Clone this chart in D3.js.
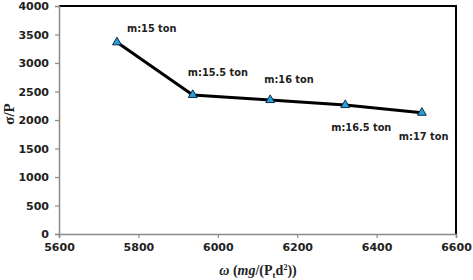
<!DOCTYPE html>
<html><head><meta charset="utf-8">
<script src="https://cdn.jsdelivr.net/npm/d3@7"></script>
<style>body{margin:0;background:#fff}</style>
</head><body>
<svg id="c" width="473" height="280"></svg>
<script>
const omega = [5746, 5937, 6132, 6321, 6514];
const sigmaP = [3363, 2440, 2351, 2263, 2128];
const labels = ["m:15 ton", "m:15.5 ton", "m:16 ton", "m:16.5 ton", "m:17 ton"];
const xTicks = [5600, 5800, 6000, 6200, 6400, 6600];
const yTicks = [0, 500, 1000, 1500, 2000, 2500, 3000, 3500, 4000];

const svg = d3.select("#c");
const L = 59, R = 456, T = 6, B = 234;
const x = d3.scaleLinear().domain([5600, 6600]).range([L, R]);
const y = d3.scaleLinear().domain([0, 4000]).range([B, T]);
const font = "DejaVu Sans, sans-serif";

svg.append("path").attr("d", `M${L},${T}H${R}V${B}`).attr("fill", "none").attr("stroke", "#000").attr("stroke-width", 2);

const xa = svg.append("g").attr("transform", `translate(0,${B})`)
  .call(d3.axisBottom(x).tickValues(xTicks).tickSize(4).tickPadding(5).tickFormat(d3.format("d")));
const ya = svg.append("g").attr("transform", `translate(${L},0)`)
  .call(d3.axisLeft(y).tickValues(yTicks).tickSize(4).tickPadding(6).tickFormat(d3.format("d")));
[xa, ya].forEach(a => {
  a.select(".domain").attr("stroke", "#8a8a8a").attr("stroke-width", 1.5);
  a.selectAll(".tick line").attr("stroke", "#8a8a8a").attr("stroke-width", 1.2);
  a.selectAll("text").attr("font-family", font).attr("font-weight", "bold").attr("font-size", 11).attr("fill", "#222");
});

const pts = omega.map((o, i) => [o, sigmaP[i]]);
svg.append("path").datum(pts)
  .attr("d", d3.line().x(d => x(d[0])).y(d => y(d[1])))
  .attr("fill", "none").attr("stroke", "#000").attr("stroke-width", 3).attr("stroke-linejoin", "round");

svg.selectAll(".m").data(pts).enter().append("path")
  .attr("transform", d => `translate(${x(d[0])},${y(d[1])})`)
  .attr("d", d3.symbol().type(d3.symbolTriangle).size(34))
  .attr("fill", "#2aa0d8").attr("stroke", "#0b2a4a").attr("stroke-width", 1);

const lblOff = [[10, -10], [-5, -19], [-6, -17], [-14, 26], [-23, 27]];
svg.selectAll(".lbl").data(pts).enter().append("text")
  .attr("x", (d, i) => x(d[0]) + lblOff[i][0])
  .attr("y", (d, i) => y(d[1]) + lblOff[i][1])
  .text((d, i) => labels[i])
  .attr("font-family", font).attr("font-weight", "bold").attr("font-size", 9.8).attr("fill", "#222");

svg.append("text").attr("transform", "translate(14,114) rotate(-90)").attr("text-anchor", "middle")
  .attr("font-family", "Liberation Serif, serif").attr("font-weight", "bold").attr("font-size", 15).attr("fill", "#222")
  .text("σ/P");

const xt = svg.append("text").attr("x", 258).attr("y", 275).attr("text-anchor", "middle")
  .attr("font-family", "Liberation Serif, serif").attr("font-weight", "bold").attr("font-size", 14).attr("fill", "#222");
xt.append("tspan").attr("font-style", "italic").text("ω");
xt.append("tspan").text(" (");
xt.append("tspan").attr("font-style", "italic").text("mg");
xt.append("tspan").text("/(P");
xt.append("tspan").attr("font-size", 9).attr("dy", 3).text("t");
xt.append("tspan").attr("dy", -3).text("d");
xt.append("tspan").attr("font-size", 8).attr("dy", -5).text("2");
xt.append("tspan").attr("dy", 5).text("))");
</script>
</body></html>
